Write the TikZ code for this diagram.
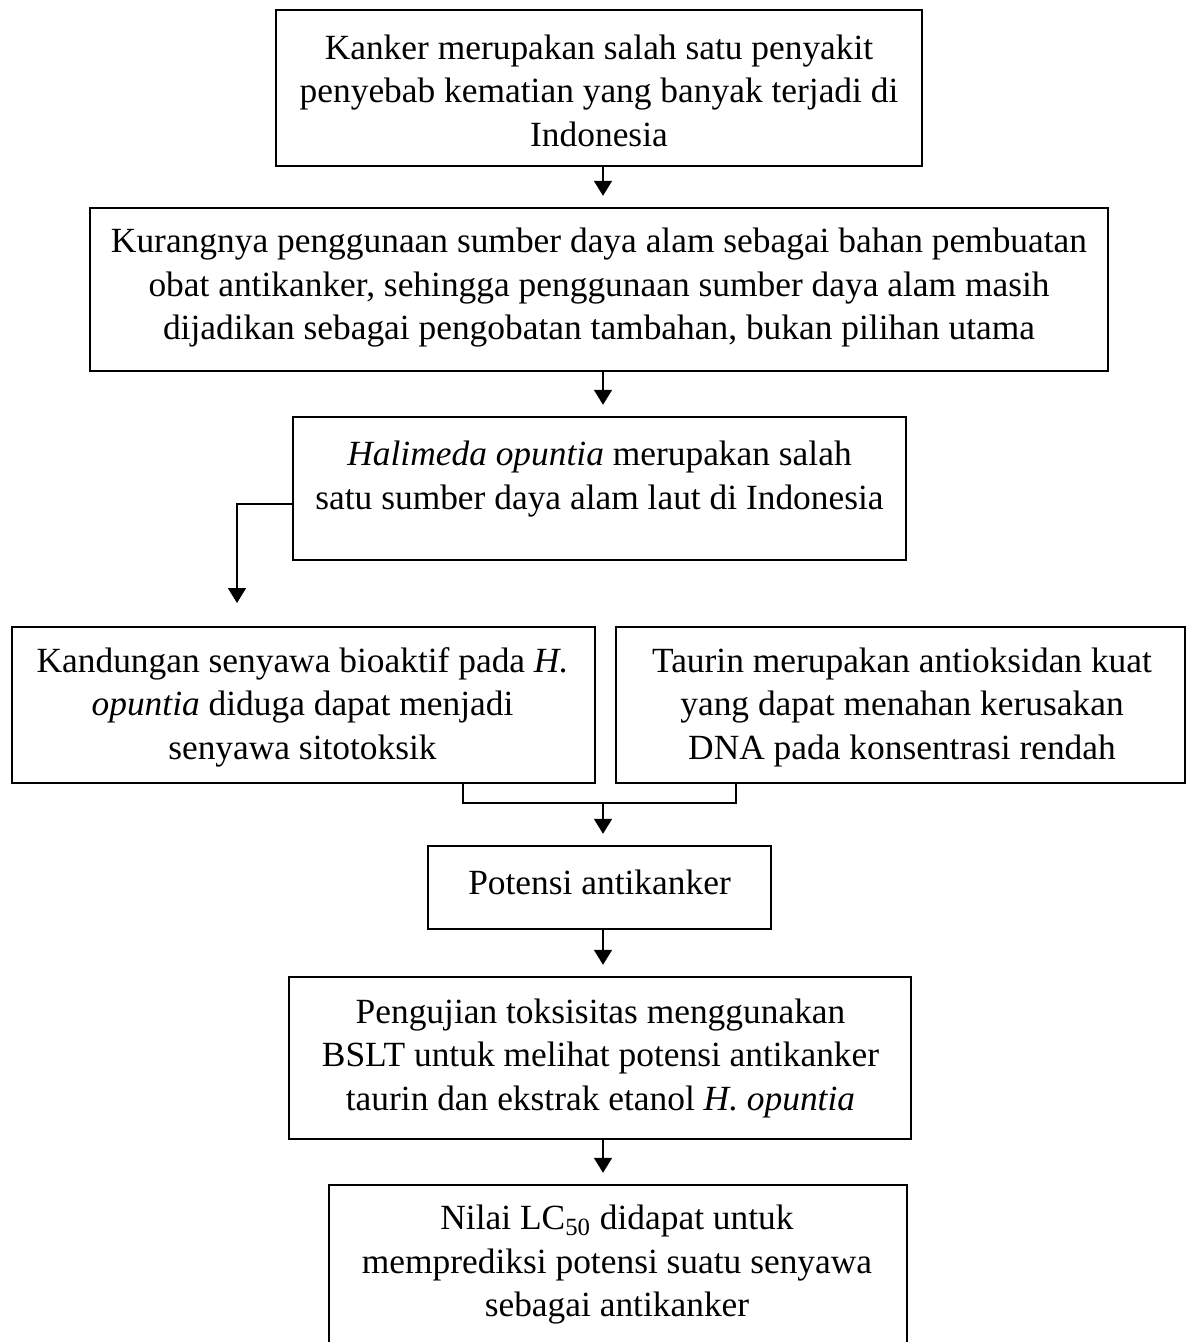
\documentclass[tikz,border=0pt]{standalone}
\usepackage{fontspec}
\setmainfont{Liberation Serif}
\usetikzlibrary{arrows.meta}
\begin{document}
\begin{tikzpicture}[x=0.5pt,y=-0.5pt,
  box/.style={draw=black, line width=1.2pt, inner sep=0pt},
  txt/.style={align=center, font=\fontsize{17.7}{21.75}\selectfont, inner sep=0pt, yshift=-1.25pt},
  arr/.style={line width=0.9pt, -{Triangle[width=9pt,length=7.5pt]}, shorten >=5.5pt},
  ln/.style={line width=0.9pt}]
\clip (0,0) rectangle (1190,1342);
\fill[white] (0,0) rectangle (1190,1342);
% boxes
\node[box, minimum width=323pt, minimum height=78pt] (b1) at (599,88) {};
\node[box, minimum width=509pt, minimum height=81.5pt] (b2) at (599,289.5) {};
\node[box, minimum width=306.5pt, minimum height=71.5pt] (b3) at (599.5,488.5) {};
\node[box, minimum width=291.5pt, minimum height=78pt] (b4) at (303.5,705) {};
\node[box, minimum width=284.5pt, minimum height=78pt] (b5) at (900.5,705) {};
\node[box, minimum width=171.5pt, minimum height=41.5pt] (b6) at (599.5,887.5) {};
\node[box, minimum width=311pt, minimum height=81pt] (b7) at (600,1058) {};
\node[box, minimum width=289pt, minimum height=87.5pt] (b8) at (618,1272.5) {};
% texts
\node[txt] (t1) at (599,88) {Kanker merupakan salah satu penyakit\\penyebab kematian yang banyak terjadi di\\Indonesia};
\node[txt] (t2) at (599,285.5) {Kurangnya penggunaan sumber daya alam sebagai bahan pembuatan\\obat antikanker, sehingga penggunaan sumber daya alam masih\\dijadikan sebagai pengobatan tambahan, bukan pilihan utama};
\node[txt] (t3) at (599.5,476.5) {\textit{Halimeda opuntia} merupakan salah\\satu sumber daya alam laut di Indonesia};
\node[txt] (t4) at (302.5,704.5) {Kandungan senyawa bioaktif pada \textit{H.}\\\textit{opuntia} diduga dapat menjadi\\senyawa sitotoksik};
\node[txt] (t5) at (902,704.5) {Taurin merupakan antioksidan kuat\\yang dapat menahan kerusakan\\DNA pada konsentrasi rendah};
\node[txt] (t6) at (599.5,880) {Potensi antikanker};
\node[txt] (t7) at (600.5,1055.5) {Pengujian toksisitas menggunakan\\BSLT untuk melihat potensi antikanker\\taurin dan ekstrak etanol \textit{H. opuntia}};
\node[txt] (t8) at (617,1262.5) {Nilai LC\textsubscript{50} didapat untuk\\memprediksi potensi suatu senyawa\\sebagai antikanker};
% connectors
\draw[arr] ([xshift=2pt]b1.south) -- ([xshift=2pt]b1.south |- b2.north);
\draw[arr] ([xshift=2pt]b2.south) -- ([xshift=2pt]b2.south |- b3.north);
\coordinate (c3) at (237,614);
\draw[arr] ([yshift=-7.75pt]b3.west) -| (c3);
\coordinate (m) at (603,803);
\draw[ln] ([xshift=79.75pt]b4.south) |- (m) -| ([xshift=-82.25pt]b5.south);
\draw[arr] (m) -- (m |- b6.north);
\draw[arr] ([xshift=1.75pt]b6.south) -- ([xshift=1.75pt]b6.south |- b7.north);
\draw[arr] ([xshift=1.5pt]b7.south) -- ([xshift=1.5pt]b7.south |- b8.north);
\end{tikzpicture}
\end{document}
